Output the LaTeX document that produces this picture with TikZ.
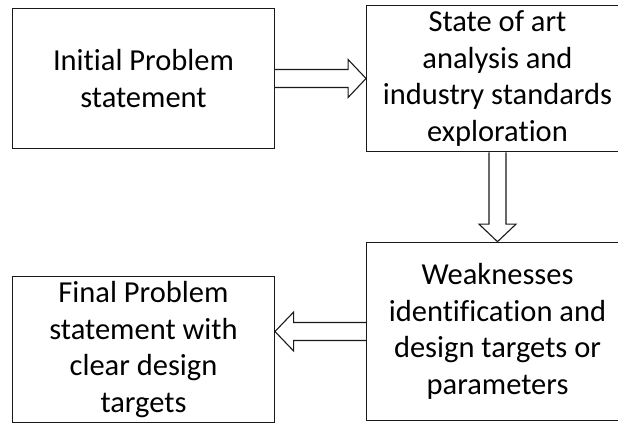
\documentclass[tikz,border=0pt]{standalone}
\usepackage{fontspec}
\setmainfont[Ligatures={NoCommon}]{Carlito}
\usetikzlibrary{calc}
\begin{document}
\begin{tikzpicture}[x=1pt,y=-1pt,
  box/.style={draw=black!90,line width=1.3pt,rectangle,minimum width=261.6pt,
    align=center,inner sep=0pt,
    font=\fontsize{30.5}{36.7}\selectfont},
  blockarrow/.style={draw=black!90,line width=1.1pt,line join=miter}]
  % page frame and clipping of the right-hand column
  \useasboundingbox (0,0) rectangle (618,424);
  \clip (0,0) rectangle (618,424);
  \node[box,minimum height=140.4pt] (A) at (143.5,78.5) {Initial Problem\\statement};
  \node[box,minimum height=146.4pt] (B) at (497.5,78.5) {State of art\\analysis and\\industry standards\\exploration};
  \node[box,minimum height=178.4pt] (C) at (497.5,331.5) {Weaknesses\\identification and\\design targets or\\parameters};
  \node[box,minimum height=146.4pt] (D) at (143.5,349.5) {Final Problem\\statement with\\clear design\\targets};
  % block arrows between the steps
  \draw[blockarrow] ($(A.east)+(0,-9)$) -- ($(B.west)+(-18,-9)$) -- ($(B.west)+(-18,-19)$)
    -- (B.west) -- ($(B.west)+(-18,19)$) -- ($(B.west)+(-18,9)$) -- ($(A.east)+(0,9)$);
  \draw[blockarrow] ($(B.south)+(-8.5,0)$) -- ($(C.north)+(-8.5,-17.5)$) -- ($(C.north)+(-18.5,-17.5)$)
    -- (C.north) -- ($(C.north)+(18.5,-17.5)$) -- ($(C.north)+(8.5,-17.5)$) -- ($(B.south)+(8.5,0)$);
  \coordinate (Cw) at (C.west |- C.center);
  \coordinate (Dt) at ($(D.east |- Cw)$);
  \draw[blockarrow] ($(Cw)+(0,-9)$) -- ($(Dt)+(18.7,-9)$) -- ($(Dt)+(18.7,-19.5)$)
    -- (Dt) -- ($(Dt)+(18.7,19.5)$) -- ($(Dt)+(18.7,9)$) -- ($(Cw)+(0,9)$);
\end{tikzpicture}
\end{document}
